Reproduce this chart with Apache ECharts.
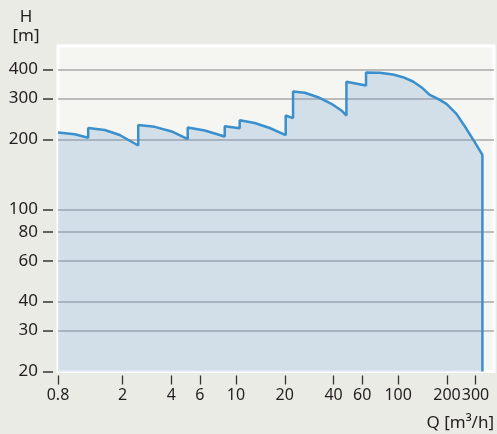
<!DOCTYPE html>
<html>
<head>
<meta charset="utf-8">
<script src="https://cdn.jsdelivr.net/npm/echarts@6/dist/echarts.min.js"></script>
<style>
  html, body { margin: 0; padding: 0; background: #ebebe6; }
  #chart { width: 497px; height: 434px; }
</style>
</head>
<body>
<div id="chart"></div>
<script>
// tick labels
var qTicks = [0.8, 2, 4, 6, 10, 20, 40, 60, 100, 200, 300];
var hTicks = [20, 30, 40, 60, 80, 100, 200, 300, 400];

// pump curve envelope, Q [m3/h] and H [m]
var flowQ = [0.8, 1.014, 1.228,
    1.228, 1.552, 1.921, 2.498,
    2.498, 3.158, 4.019, 5.044,
    5.044, 6.42, 8.53,
    8.53, 10.55,
    10.55, 13.06, 16.16, 20.27,
    20.27, 22.5,
    22.5, 26.6, 32.1, 38.8, 44.7, 48,
    48, 63.4,
    63.4, 77, 93, 107.2, 123.5, 139.1, 156.6, 176.2, 198.5, 228.8, 263.6, 296.6, 330.8,
    330.8];
var headH = [214.1, 210.5, 203.1,
    223.9, 219.5, 208.8, 188.2,
    230.7, 226.5, 216.3, 200.7,
    225, 218.4, 205.7,
    227.7, 223.3,
    241.9, 235.2, 223.9, 208.8,
    253.4, 247,
    321.6, 317.5, 303.9, 284.6, 266.4, 253.4,
    354, 341.3,
    388, 387, 380.7, 370.6, 355.1, 335.6, 311.2, 299.1, 284.6, 257.7, 222.1, 194.5, 171.6,
    20];

var qMin = 0.8, qMax = 390;
var hMin = 20, hMax = 505;

var FONT = '"Noto Sans", sans-serif';
var TXT = '#231f20';

function lg(v) { return Math.log10(v); }
function unlg(v) { return String(Math.round(Math.pow(10, v) * 10) / 10); }

var points = [];
for (var i = 0; i < flowQ.length; i++) {
    points.push([lg(flowQ[i]), lg(headH[i])]);
}

var chart = echarts.init(document.getElementById('chart'));
chart.setOption({
    animation: false,
    backgroundColor: '#ebebe6',
    grid: {
        left: 58, right: 3, top: 46, bottom: 62.5,
        show: true,
        backgroundColor: '#f5f5f1',
        borderColor: '#ffffff',
        borderWidth: 3
    },
    xAxis: {
        type: 'value',
        min: lg(qMin),
        max: lg(qMax),
        offset: 4,
        axisLine: { show: false, onZero: false },
        splitLine: { show: false },
        axisTick: {
            customValues: qTicks.map(lg),
            length: 9,
            lineStyle: { color: '#333', width: 1.3 }
        },
        axisLabel: {
            customValues: qTicks.map(lg),
            formatter: unlg,
            hideOverlap: false,
            showMaxLabel: true,
            margin: 12,
            fontSize: 16,
            fontFamily: FONT,
            color: TXT
        }
    },
    yAxis: {
        type: 'value',
        min: lg(hMin),
        max: lg(hMax),
        offset: 5,
        axisLine: { show: false, onZero: false },
        splitLine: {
            show: true,
            showMinLine: false,
            lineStyle: { color: '#a8a8a8', width: 1.5 }
        },
        axisTick: {
            customValues: hTicks.map(lg),
            length: 10,
            lineStyle: { color: '#333', width: 1.5 }
        },
        axisLabel: {
            customValues: hTicks.map(lg),
            formatter: unlg,
            hideOverlap: false,
            margin: 15,
            fontSize: 17,
            fontFamily: FONT,
            color: TXT
        }
    },
    graphic: [
        { type: 'text', x: 26, y: 17, style: { text: 'H', align: 'center', verticalAlign: 'middle', fontSize: 17, fontFamily: FONT, fill: TXT } },
        { type: 'text', x: 26, y: 36, style: { text: '[m]', align: 'center', verticalAlign: 'middle', fontSize: 17, fontFamily: FONT, fill: TXT } },
        { type: 'text', x: 494, y: 423, style: { text: 'Q [m³/h]', align: 'right', verticalAlign: 'middle', fontSize: 17, fontFamily: FONT, fill: TXT } }
    ],
    series: [{
        type: 'line',
        data: points,
        showSymbol: false,
        lineStyle: { color: '#3a8fcd', width: 2.5 },
        areaStyle: { color: 'rgba(100,155,205,0.34)', origin: 'start' }
    }]
});
</script>
</body>
</html>
